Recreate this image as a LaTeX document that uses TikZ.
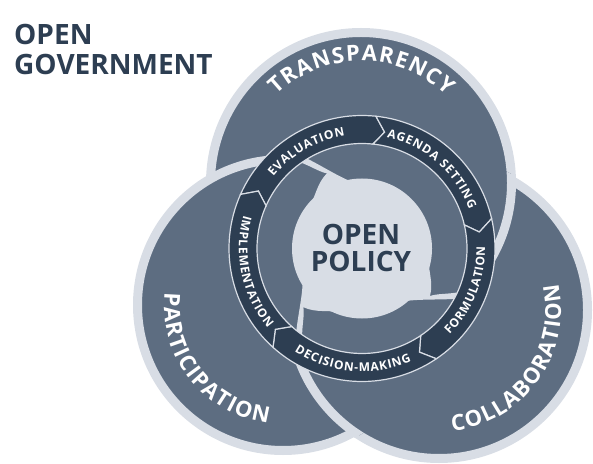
\documentclass[tikz,border=0pt]{standalone}
\usepackage{fontspec}
\setsansfont{Open Sans}
\usepackage{xcolor}
\usepackage{tikz}
\usetikzlibrary{decorations.text, positioning}

\definecolor{marino}{HTML}{2D3E52}
\definecolor{pizarra}{HTML}{5D6D81}
\definecolor{niebla}{HTML}{D8DDE5}

% el \kern final separa las letras sobre el arco
\newcommand{\letrasanillo}{\sffamily\bfseries\fontsize{12}{12}\selectfont\color{white}\kern0.8pt}
\newcommand{\letrasgrandes}{\sffamily\bfseries\fontsize{22}{22}\selectfont\color{white}\kern1.3pt}

% Circulo con borde claro de 9pt: centro, radio medio del borde
\newcommand{\circulo}[2]{%
  \filldraw[fill=pizarra, draw=niebla, line width=9pt] (#1) circle[radius=#2pt];}

\tikzset{
  titulo/.style={anchor=base west, inner sep=0pt, text=marino,
    font=\sffamily\bfseries\fontsize{28}{30}\selectfont},
  politica/.style={anchor=base, inner sep=0pt, text=marino,
    font=\sffamily\bfseries\fontsize{28}{30}\selectfont},
  anillo/.style={decorate, decoration={text along path, text align=center,
    text={|\letrasanillo|#1}}},
  etiqueta/.style={decorate, decoration={text along path, text align=center,
    text={|\letrasgrandes|#1}}},
}

\begin{document}
\begin{tikzpicture}[x=1pt, y=1pt]
    \useasboundingbox (0,0) rectangle (593,463);

    % Centros de los tres circulos y del ciclo
    \coordinate (Transp) at (361,280);
    \coordinate (Partic) at (283,158);
    \coordinate (Colab) at (439,153);
    \coordinate (Centro) at (362,214.5);

    % --- CIRCULOS (cada uno tapa al siguiente) ---
    \circulo{Transp}{150.5}
    \circulo{Colab}{148.5}
    \circulo{Partic}{145.5}
    \begin{scope}
        \clip (Partic) circle[radius=151pt];
        \circulo{Colab}{148.5}
    \end{scope}
    \begin{scope}
        \clip (Colab) circle[radius=154pt];
        \circulo{Transp}{150.5}
    \end{scope}

    % Etiquetas curvas
    \path[etiqueta=TRANSPARENCY] (Transp) ++(150:122pt) arc[start angle=150, end angle=30, radius=122pt];
    \path[etiqueta=PARTICIPATION] (Partic) ++(145:119pt) arc[start angle=145, end angle=291, radius=119pt];
    \path[etiqueta=COLLABORATION] (Colab) ++(-110:122pt) arc[start angle=-110, end angle=38, radius=122pt];

    % --- REMOLINO Y ANILLO ---
    \begin{scope}[shift={(Centro)}]
        \fill[pizarra] (0,0) circle[radius=106pt];
        \fill[niebla] (0,0) circle[radius=70pt];
        % colas claras entre aspas, con la punta de cada aspa
        \foreach \p in {-28, 122, 232}
            \fill[niebla] (\p+1:110pt) .. controls (\p-5:95pt) and (\p-12:78pt) .. (\p-24:67pt)
                -- (\p+24:66pt) .. controls (\p+9:70pt) and (\p+3:79pt) .. (\p-7:83pt)
                .. controls (\p-3:87pt) and (\p:98pt) .. (\p+5:110pt) -- cycle;

        % Cinco flechas del ciclo
        \foreach \a/\b in {156/84, 84/13, 13/-56, -56/-132, -132/-204}
            \draw[niebla, line width=1.2pt, fill=marino] (\a:133pt) arc[start angle=\a, end angle=\b, radius=133pt]
                -- (\b-5:118.5pt) -- (\b:105pt) arc[start angle=\b, end angle=\a, radius=105pt] -- (\a-5:118.5pt) -- cycle;

        \path[anillo=EVALUATION] (165:114pt) arc[start angle=165, end angle=75, radius=114pt];
        \path[anillo=AGENDA SETTING] (94:114pt) arc[start angle=94, end angle=4, radius=114pt];
        \path[anillo=FORMULATION] (-67:123pt) arc[start angle=-67, end angle=23, radius=123pt];
        \path[anillo=DECISION-MAKING] (-140:123pt) arc[start angle=-140, end angle=-50, radius=123pt];
        \path[anillo=IMPLEMENTATION] (147:123pt) arc[start angle=147, end angle=237, radius=123pt];
    \end{scope}

    % Titulos
    \node[titulo] (abierto) at (14,418) {OPEN};
    \node[titulo] (gobierno) at (14,388) {GOVERNMENT};
    \node[politica] (open) at (361,218) {OPEN};
    \node[politica] (policy) at (361,191) {POLICY};

\end{tikzpicture}
\end{document}
